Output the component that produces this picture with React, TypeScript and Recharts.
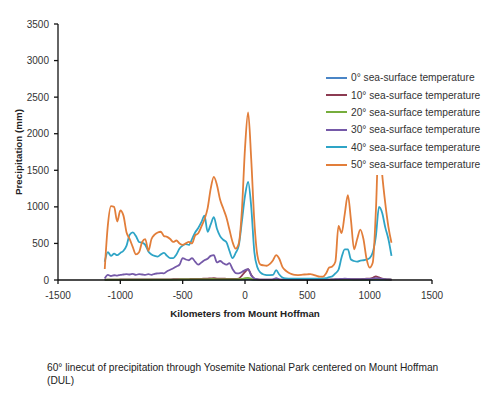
import React from 'react';
import { LineChart, Line, XAxis, YAxis } from 'recharts';

// distance from Mount Hoffman (km), 25 km steps
const km = [
  -1125, -1100, -1075, -1050, -1025, -1000, -975, -950, -925, -900, -875, -850, -825, -800, -775, -750,
  -725, -700, -675, -650, -625, -600, -575, -550, -525, -500, -475, -450, -425, -400, -375, -350,
  -325, -300, -275, -250, -225, -200, -175, -150, -125, -100, -75, -50, -25, 0, 25, 50,
  75, 100, 125, 150, 175, 200, 225, 250, 275, 300, 325, 350, 375, 400, 425, 450,
  475, 500, 525, 550, 575, 600, 625, 650, 675, 700, 725, 750, 775, 800, 825, 850,
  875, 900, 925, 950, 975, 1000, 1025, 1050, 1075, 1100, 1125, 1150, 1175,
];

const sst0 = [
  2, 3, 3, 2, 3, 3, 2, 3, 3, 2, 3, 3, 2, 3, 3, 2,
  3, 3, 2, 3, 3, 3, 4, 4, 4, 4, 5, 5, 5, 5, 5, 5,
  6, 6, 6, 6, 5, 5, 5, 5, 5, 4, 4, 5, 6, 8, 10, 6,
  3, 2, 2, 2, 2, 2, 2, 3, 2, 2, 2, 2, 2, 2, 2, 2,
  2, 2, 2, 2, 2, 2, 2, 2, 2, 2, 2, 2, 2, 2, 2, 2,
  2, 2, 2, 2, 2, 2, 2, 3, 3, 3, 2, 2, 2,
];

const sst10 = [
  4, 6, 6, 6, 6, 7, 7, 7, 7, 7, 7, 7, 7, 7, 7, 7,
  8, 8, 8, 8, 9, 9, 10, 10, 11, 12, 13, 13, 14, 14, 15, 16,
  18, 20, 22, 24, 20, 18, 18, 16, 15, 14, 14, 20, 60, 110, 150, 70,
  18, 8, 6, 5, 5, 5, 6, 12, 6, 4, 3, 3, 3, 3, 3, 3,
  3, 3, 3, 3, 3, 3, 3, 4, 5, 6, 7, 9, 12, 15, 15, 12,
  10, 10, 12, 15, 18, 20, 30, 50, 35, 20, 12, 8, 6,
];

const sst20 = [
  3, 5, 5, 5, 5, 5, 5, 5, 5, 5, 5, 5, 5, 5, 5, 5,
  5, 5, 5, 5, 6, 6, 6, 6, 7, 7, 7, 7, 8, 8, 8, 8,
  9, 9, 10, 10, 9, 9, 9, 8, 8, 8, 8, 10, 15, 25, 30, 15,
  6, 4, 3, 3, 3, 3, 3, 5, 3, 3, 3, 3, 3, 3, 3, 3,
  3, 3, 3, 3, 3, 3, 3, 3, 3, 4, 4, 5, 6, 7, 7, 6,
  5, 5, 5, 6, 7, 8, 10, 14, 12, 9, 7, 5, 4,
];

const sst30 = [
  20, 70, 55, 65, 60, 70, 75, 80, 75, 85, 70, 80, 75, 70, 80, 70,
  85, 90, 95, 90, 120, 140, 160, 185, 210, 300, 280, 270, 300, 250, 210, 240,
  270, 290, 330, 340, 240, 260, 230, 210, 230, 150, 95, 90, 110, 135, 150, 60,
  20, 10, 6, 5, 5, 6, 10, 25, 10, 5, 4, 4, 4, 4, 4, 4,
  4, 4, 4, 4, 4, 4, 4, 5, 6, 8, 10, 12, 15, 18, 16, 12,
  10, 10, 10, 12, 14, 16, 20, 25, 22, 15, 10, 8, 6,
];

const sst40 = [
  250, 380, 330, 360, 340, 370, 400, 470, 620, 650, 600, 520, 510, 480, 390, 350,
  330, 320, 350, 370, 330, 300, 300, 350, 430, 470, 490, 480, 560, 650, 710, 790,
  880, 660, 760, 860, 700, 600, 550, 520, 400, 300, 370, 470, 800, 1150, 1340, 1000,
  380, 170, 100, 75, 68, 68, 70, 135, 75, 35, 22, 20, 20, 20, 20, 20,
  20, 20, 20, 20, 20, 20, 22, 25, 40, 50, 90, 140, 310, 420, 420, 280,
  260, 250, 265, 270, 280, 300, 380, 600, 1000, 920, 720, 560, 330,
];

const sst50 = [
  150, 750, 1010, 1000, 800, 950, 880, 650, 560, 450, 350, 380, 520, 560, 400, 560,
  620, 650, 660, 600, 590, 560, 520, 540, 500, 480, 500, 520, 500, 610, 640, 730,
  830, 980, 1250, 1410, 1300, 1100, 980, 860, 690, 520, 430, 500, 950, 1800, 2290, 1650,
  800, 330, 210, 200, 195, 220, 270, 340, 290, 180, 130, 100, 80, 70, 68, 70,
  75, 78, 80, 70, 55, 45, 45, 90, 170, 185, 250, 740, 640, 900, 1160, 820,
  420, 560, 690, 560, 290, 170, 240, 950, 2000, 1450, 1050, 730, 510,
];

const xTicks = [-1500, -1000, -500, 0, 500, 1000, 1500];
const yTicks = [0, 500, 1000, 1500, 2000, 2500, 3000, 3500];

const series = [
  { key: 'sst0', name: '0° sea-surface temperature', color: '#4a85c6', values: sst0 },
  { key: 'sst10', name: '10° sea-surface temperature', color: '#8c3b52', values: sst10 },
  { key: 'sst20', name: '20° sea-surface temperature', color: '#76ad3c', values: sst20 },
  { key: 'sst30', name: '30° sea-surface temperature', color: '#7559a8', values: sst30 },
  { key: 'sst40', name: '40° sea-surface temperature', color: '#2ea4c6', values: sst40 },
  { key: 'sst50', name: '50° sea-surface temperature', color: '#e27e3a', values: sst50 },
];

const data = km.map((k, i) => {
  const row: any = { km: k };
  series.forEach((s) => { row[s.key] = s.values[i]; });
  return row;
});

const font = '"Liberation Sans", Arial, sans-serif';

const YLabel = ({ viewBox }: any) => {
  const x = 18;
  const y = viewBox.y + viewBox.height / 2;
  return (
    <text
      x={x}
      y={y}
      transform={`rotate(-90 ${x} ${y})`}
      textAnchor="middle"
      dominantBaseline="central"
      fontFamily={font}
      fontSize={9.8}
      fontWeight="bold"
      fill="#222"
    >
      Precipitation (mm)
    </text>
  );
};

export default function App() {
  const tick = { fontFamily: font, fontSize: 10, fill: '#333' };
  return (
    <div style={{ position: 'absolute', left: 0, top: 0, width: 490, height: 394, background: '#fff' }}>
      <LineChart width={490} height={340} data={data} margin={{ top: 24, right: 58, bottom: 24, left: 8 }}>
        <XAxis
          dataKey="km"
          type="number"
          domain={[-1500, 1500]}
          ticks={xTicks}
          stroke="#111"
          strokeWidth={1.3}
          tickSize={4}
          tickMargin={8}
          tick={tick}
          height={36}
          label={{
            value: 'Kilometers from Mount Hoffman',
            position: 'insideBottom',
            offset: -1,
            style: { fontFamily: font, fontSize: 9.8, fontWeight: 'bold', fill: '#222' },
          }}
        />
        <YAxis
          type="number"
          domain={[0, 3500]}
          ticks={yTicks}
          stroke="#111"
          strokeWidth={1.3}
          tickSize={4}
          tickMargin={5}
          tick={tick}
          width={50}
          label={{ content: (p: any) => <YLabel {...p} /> }}
        />
        {series.map((s) => (
          <Line
            key={s.key}
            dataKey={s.key}
            name={s.name}
            stroke={s.color}
            strokeWidth={1.8}
            dot={false}
            type="monotone"
            isAnimationActive={false}
          />
        ))}
      </LineChart>
      <div
        style={{
          position: 'absolute',
          left: 326,
          top: 67,
          background: '#fff',
          padding: '2px 4px 2px 0',
          fontFamily: font,
          fontSize: 10.2,
          color: '#333',
        }}
      >
        {series.map((s) => (
          <div key={s.key} style={{ display: 'flex', alignItems: 'center', height: 17.4 }}>
            <span style={{ display: 'inline-block', width: 21, height: 2, background: s.color, marginRight: 4 }} />
            <span>{s.name}</span>
          </div>
        ))}
      </div>
      <div
        style={{
          position: 'absolute',
          left: 47,
          top: 361,
          width: 420,
          fontFamily: font,
          fontSize: 10.2,
          lineHeight: '13px',
          color: '#222',
        }}
      >
        60° linecut of precipitation through Yosemite National Park centered on Mount Hoffman
        <br />
        (DUL)
      </div>
    </div>
  );
}
